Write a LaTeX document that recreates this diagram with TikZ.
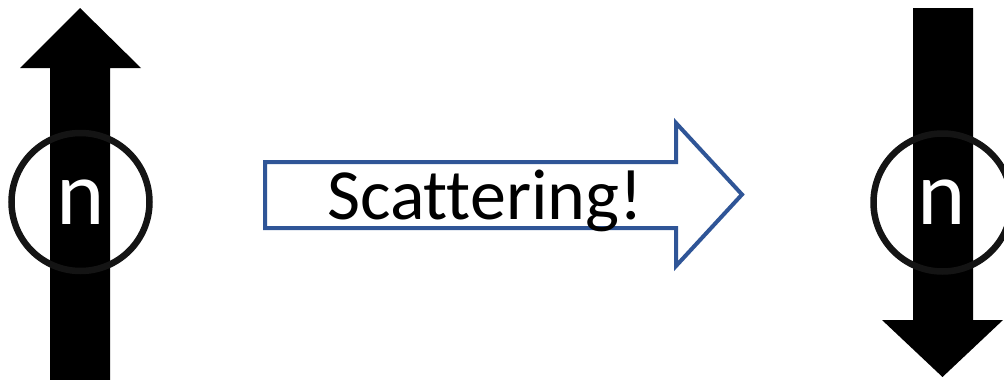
\documentclass[tikz,border=0pt]{standalone}
\usepackage{fontspec}
\setmainfont{Carlito}[Ligatures=NoCommon]
\definecolor{arrowblue}{HTML}{2F5597}
\definecolor{ringgray}{HTML}{141414}
\tikzset{
  bigarrow/.style={fill=black, draw=none},
  ring/.style={circle, draw=ringgray, line width=6.5pt, minimum size=138pt, inner sep=0pt},
  nlabel/.style={text=white, font=\fontsize{92}{92}\selectfont, inner sep=0pt},
  flowarrow/.style={draw=arrowblue, line width=4pt, fill=white, line join=miter},
  flowtext/.style={text=black, font=\fontsize{72}{72}\selectfont, inner sep=0pt, anchor=base}
}
\begin{document}
\begin{tikzpicture}[x=1pt,y=-1pt]
\useasboundingbox (0,0) rectangle (1004,380);
\clip (0,0) rectangle (1004,380);
% left (spin up) arrow
\fill[bigarrow] (50,380) -- (50,68) -- (20,68) -- (80,8) -- (141,68) -- (110,68) -- (110,380) -- cycle;
\node[ring] (c1) at (80.5,202) {};
\node[nlabel] (n1) at (80.5,202) {n};
% right (spin down) arrow
\fill[bigarrow] (913,8) -- (973,8) -- (973,320) -- (1003,320) -- (942.5,377) -- (882,320) -- (913,320) -- cycle;
\node[ring] (c2) at (942.5,202.5) {};
\node[nlabel] (n2) at (942,202.5) {n};
% middle block arrow
\draw[flowarrow] (265,162) -- (676,162) -- (676,123) -- (742,194.5) -- (676,266) -- (676,228) -- (265,228) -- cycle;
\node[flowtext] (t) at (485,219) {Scattering!};
\end{tikzpicture}
\end{document}
